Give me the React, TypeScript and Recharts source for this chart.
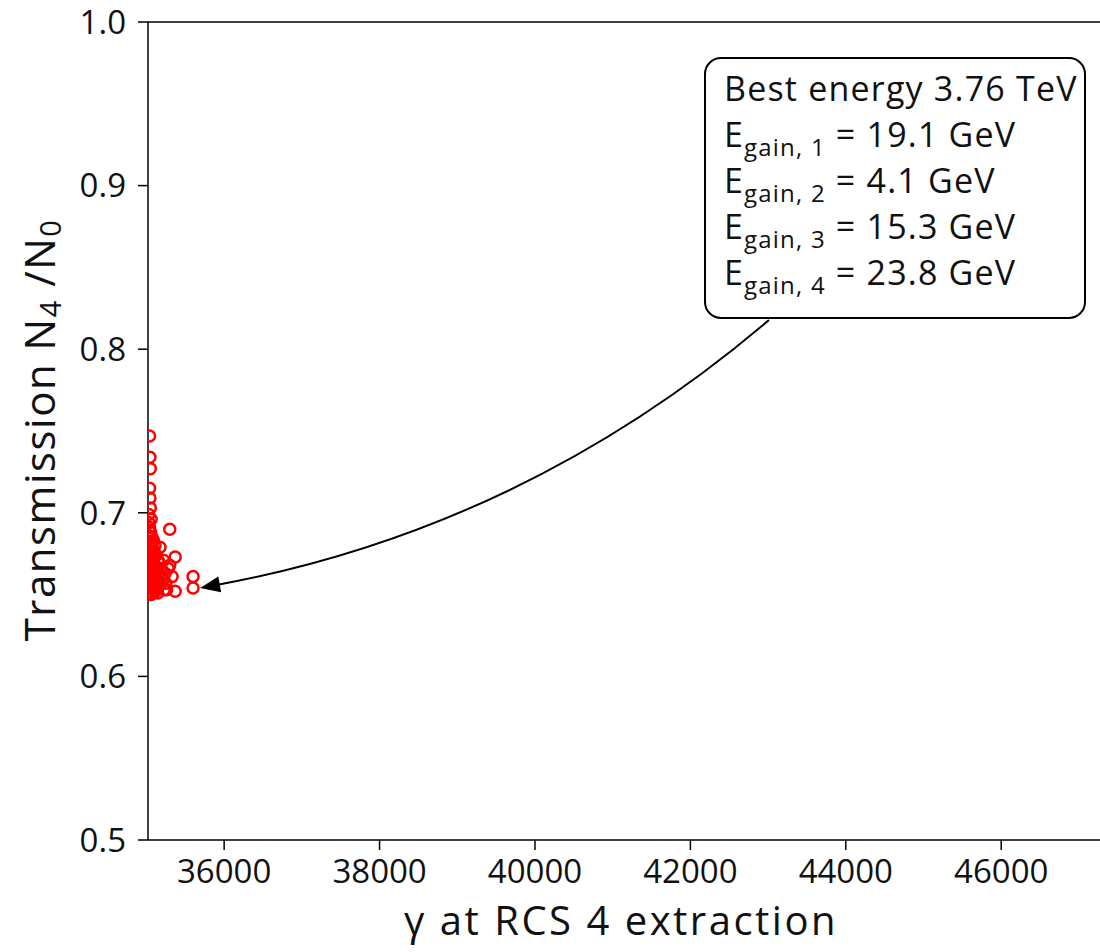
import { Customized, ReferenceLine, Scatter, ScatterChart, XAxis, YAxis } from 'recharts';

// gamma at extraction vs transmission
const gammaValues = [
  35040, 35045, 35050, 35040, 35045, 35050, 35030, 35060,
  35300, 35175, 35370, 35170, 35280, 35330, 35210, 35600, 35600, 35370, 35260, 35240, 35300, 35250,
  35030, 35040, 35055, 35070, 35090, 35110, 35035, 35060, 35080, 35100, 35125, 35150,
  35030, 35045, 35065, 35085, 35105, 35130, 35160, 35035, 35055, 35075, 35095, 35120,
  35140, 35030, 35050, 35070, 35090, 35115, 35145, 35040, 35060, 35080, 35100, 35135,
  35030, 35050, 35075, 35095, 35120, 35040, 35065, 35090, 35110, 35035, 35055, 35080,
  35190, 35220, 35180, 35230, 35200,
];
const transmissionValues = [
  0.747, 0.734, 0.727, 0.715, 0.709, 0.703, 0.699, 0.696,
  0.690, 0.679, 0.673, 0.669, 0.666, 0.661, 0.659, 0.661, 0.654, 0.652, 0.653, 0.663, 0.668, 0.657,
  0.694, 0.691, 0.688, 0.685, 0.683, 0.680, 0.686, 0.682, 0.678, 0.676, 0.674, 0.671,
  0.677, 0.673, 0.671, 0.669, 0.667, 0.665, 0.663, 0.668, 0.664, 0.662, 0.660, 0.659,
  0.657, 0.660, 0.657, 0.655, 0.653, 0.652, 0.651, 0.652, 0.650, 0.651, 0.654, 0.655,
  0.681, 0.676, 0.672, 0.665, 0.661, 0.689, 0.679, 0.673, 0.668, 0.656, 0.658, 0.663,
  0.666, 0.671, 0.656, 0.653, 0.661,
];

const xTicks = [36000, 38000, 40000, 42000, 44000, 46000];
const yTicks = [0.5, 0.6, 0.7, 0.8, 0.9, 1.0];

const xLabel = 'γ at RCS 4 extraction';
const annotationTitle = 'Best energy 3.76 TeV';
const gainIndex = ['1', '2', '3', '4'];
const gainValues = ['19.1', '4.1', '15.3', '23.8'];

const arrowTarget = { x: 35690, y: 0.654 };

const points = gammaValues.map((g, i) => ({ gamma: g, trans: transmissionValues[i] }));

const FONT = '"Open Sans", "Noto Sans", sans-serif';
const X_DOMAIN: [number, number] = [35020, 47400];
const Y_DOMAIN: [number, number] = [0.5, 1.0];
const LEFT = 148;
const TOP = 22;
const RIGHT = 1110;
const BOTTOM = 840;

const px = (v: number) => LEFT + ((v - X_DOMAIN[0]) / (X_DOMAIN[1] - X_DOMAIN[0])) * (RIGHT - LEFT);
const py = (v: number) => BOTTOM - ((v - Y_DOMAIN[0]) / (Y_DOMAIN[1] - Y_DOMAIN[0])) * (BOTTOM - TOP);

const Ring = (props: any) => (
  <circle cx={props.cx} cy={props.cy} r={5.5} fill="none" stroke="#ff0000" strokeWidth={2.5} />
);

const Labels = () => (
  <g fontFamily={FONT} fill="#111">
    <text x={621} y={935} fontSize={40} letterSpacing={2.5} textAnchor="middle">
      {xLabel}
    </text>
    <text x={55} y={430} fontSize={42} letterSpacing={1.5} textAnchor="middle" transform="rotate(-90 55 430)">
      Transmission N<tspan fontSize={29} dy={6}>4</tspan>
      <tspan dy={-6}> /N</tspan>
      <tspan fontSize={29} dy={6}>0</tspan>
    </text>
  </g>
);

const Annotation = () => {
  const tipX = px(arrowTarget.x);
  const tipY = py(arrowTarget.y);
  const startX = 769;
  const startY = 320;
  const cx = 525;
  const cy = 528;
  // arrow head direction from control point toward tip
  const dx = tipX - cx;
  const dy = tipY - cy;
  const len = Math.sqrt(dx * dx + dy * dy);
  const ux = dx / len;
  const uy = dy / len;
  const headLen = 20;
  const headW = 8;
  const bx = tipX - ux * headLen;
  const by = tipY - uy * headLen;
  const head = `${tipX},${tipY} ${bx - uy * headW},${by + ux * headW} ${bx + uy * headW},${by - ux * headW}`;
  const lineEndX = tipX - ux * (headLen - 2);
  const lineEndY = tipY - uy * (headLen - 2);
  return (
    <g>
      <path
        d={`M${startX},${startY} Q${cx},${cy} ${lineEndX},${lineEndY}`}
        fill="none"
        stroke="#000"
        strokeWidth={2}
      />
      <polygon points={head} fill="#000" />
      <rect x={705} y={58} width={380} height={260} rx={16} ry={16} fill="#fff" stroke="#000" strokeWidth={2} />
      <text x={724} y={101} fontSize={34} letterSpacing={1.2} fontFamily={FONT} fill="#111">
        {annotationTitle}
      </text>
      {gainIndex.map((k, i) => (
        <text key={k} x={724} y={147 + i * 46} fontSize={34} letterSpacing={1.2} fontFamily={FONT} fill="#111">
          E
          <tspan fontSize={24} dy={9}>{`gain, ${k}`}</tspan>
          <tspan dy={-9}>{` = ${gainValues[i]} GeV`}</tspan>
        </text>
      ))}
    </g>
  );
};

export default function App() {
  return (
    <div style={{ position: 'absolute', left: 0, top: 0, width: 1100, height: 952, overflow: 'hidden', background: '#fff' }}>
      <ScatterChart width={1120} height={952} margin={{ top: TOP, right: 10, left: 0, bottom: 0 }}>
        <XAxis
          type="number"
          dataKey="gamma"
          domain={X_DOMAIN}
          allowDataOverflow
          ticks={xTicks}
          height={112}
          tickSize={10}
          tickMargin={10}
          stroke="#000"
          strokeWidth={1.5}
          tick={{ fill: '#111', fontSize: 33, fontFamily: FONT }}
        />
        <YAxis
          type="number"
          dataKey="trans"
          domain={Y_DOMAIN}
          allowDataOverflow
          ticks={yTicks}
          width={148}
          tickSize={10}
          tickMargin={12}
          stroke="#000"
          strokeWidth={1.5}
          tickFormatter={(v: number) => v.toFixed(1)}
          tick={{ fill: '#111', fontSize: 33, fontFamily: FONT }}
        />
        <ReferenceLine y={1.0} stroke="#000" strokeWidth={1.5} />
        <Scatter data={points} shape={Ring} isAnimationActive={false} />
        <Customized component={Labels} />
        <Customized component={Annotation} />
      </ScatterChart>
    </div>
  );
}
